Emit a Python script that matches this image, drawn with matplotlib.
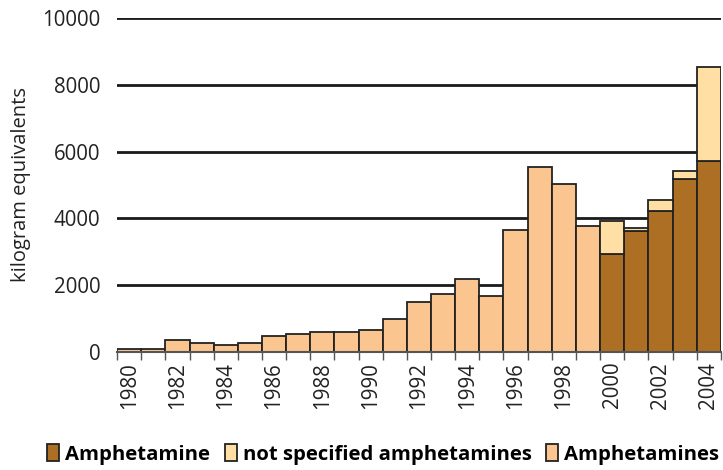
import matplotlib.pyplot as plt
import numpy as np

plt.rcParams['font.family'] = ['Open Sans', 'DejaVu Sans']

years = list(range(1980, 2005))
# 1980-1999: only total "Amphetamines" reported
amphetamines = [100, 100, 350, 285, 225, 285, 465, 525, 590, 590, 650, 1000,
                1500, 1730, 2200, 1680, 3640, 5550, 5020, 3760]
# 2000-2004: split into amphetamine and not specified
split_years = [2000, 2001, 2002, 2003, 2004]
amphetamine = [2920, 3630, 4230, 5180, 5720]
not_specified = [1010, 70, 310, 250, 2820]

c_amph = '#AD6F23'
c_notspec = '#FFDFA4'
c_amphs = '#FAC58E'

fig = plt.figure(figsize=(7.23, 4.70), dpi=100)
ax = fig.add_axes([0.162, 0.251, 0.835, 0.711])

x_old = np.arange(1980, 1980 + len(amphetamines))
x_new = np.array(split_years)
ax.bar(x_old, amphetamines, width=1.0, color=c_amphs, edgecolor='#222222',
       linewidth=1.3, zorder=3, label='Amphetamines')
ax.bar(x_new, amphetamine, width=1.0, color=c_amph, edgecolor='#222222',
       linewidth=1.3, zorder=3, label='Amphetamine')
ax.bar(x_new, not_specified, bottom=amphetamine, width=1.0, color=c_notspec,
       edgecolor='#222222', linewidth=1.3, zorder=3,
       label='not specified amphetamines')

ax.set_xlim(1979.5, 2004.5)
ax.set_ylim(0, 10000)
ax.set_yticks(range(0, 10001, 2000))
ax.yaxis.grid(True, color='#1a1a1a', linewidth=2.0, zorder=0)
ax.set_axisbelow(True)
for s in ['top', 'right', 'left']:
    ax.spines[s].set_visible(False)
ax.spines['bottom'].set_color('#555555')
ax.spines['bottom'].set_linewidth(1.5)
ax.spines['bottom'].set_zorder(4)

ax.set_xticks(years[::2])
ax.set_xticklabels([str(y) for y in years[::2]], rotation=90, fontsize=14.8,
                   color='#222222')
ax.set_xticks(np.arange(1979.5, 2005), minor=True)
ax.tick_params(axis='x', which='major', length=0, pad=7)
ax.tick_params(axis='x', which='minor', length=6, width=1, color='#555555')
ax.tick_params(axis='y', length=0, labelsize=14.8, labelcolor='#222222', pad=12)
ax.set_ylabel('kilogram equivalents', fontsize=14.5, color='#222222', labelpad=8)

h, l = ax.get_legend_handles_labels()
order = [1, 2, 0]
leg = fig.legend([h[i] for i in order], [l[i] for i in order], loc='lower center',
                 bbox_to_anchor=(0.53, -0.028), ncol=3, frameon=False,
                 handlelength=0.6, handleheight=0.9, handletextpad=0.3,
                 columnspacing=0.7, prop={'weight': 'bold', 'size': 14.6})

fig.savefig('out.png', dpi=100)
